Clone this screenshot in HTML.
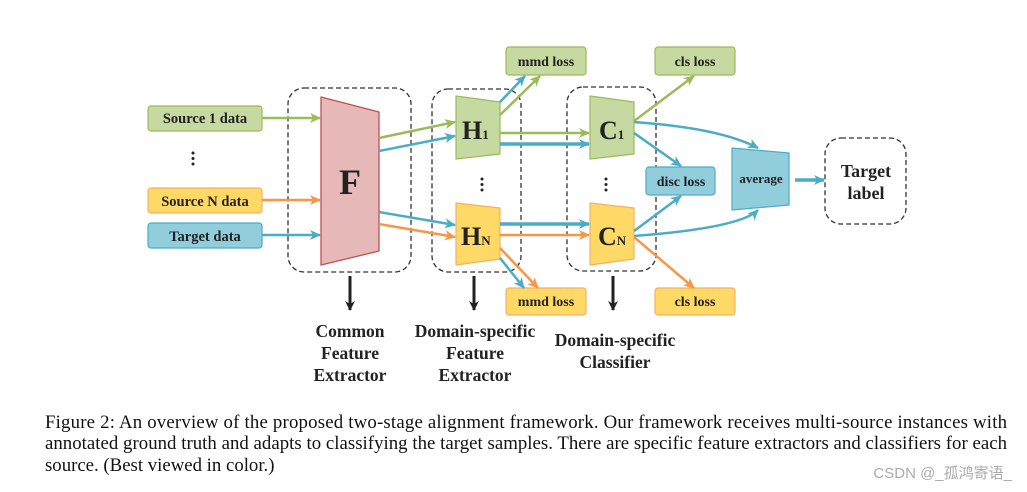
<!DOCTYPE html>
<html><head><meta charset="utf-8"><style>
html,body{margin:0;padding:0;background:#fff;}
svg{display:block;}
.b{font-family:"Liberation Serif",serif;font-weight:bold;fill:#222;}
.c{font-family:"Liberation Serif",serif;fill:#111;font-size:18.8px;}
</style></head><body>
<svg width="1027" height="492" viewBox="0 0 1027 492" xmlns="http://www.w3.org/2000/svg">
<defs>
<marker id="ag" markerWidth="11" markerHeight="10" refX="10" refY="5" orient="auto" markerUnits="userSpaceOnUse"><path d="M0,0 L11,5 L0,10 L3,5 z" fill="#9bbb59"/></marker>
<marker id="ab" markerWidth="11" markerHeight="10" refX="10" refY="5" orient="auto" markerUnits="userSpaceOnUse"><path d="M0,0 L11,5 L0,10 L3,5 z" fill="#4bacc6"/></marker>
<marker id="ao" markerWidth="11" markerHeight="10" refX="10" refY="5" orient="auto" markerUnits="userSpaceOnUse"><path d="M0,0 L11,5 L0,10 L3,5 z" fill="#f79646"/></marker>
<marker id="ak" markerWidth="10" markerHeight="10" refX="5" refY="9" orient="0" markerUnits="userSpaceOnUse"><path d="M0,0 L5,10 L10,0 L5,3 z" fill="#222"/></marker>
</defs>
<g fill="none" stroke="#333" stroke-width="1.3" stroke-dasharray="5,3">
<rect x="288" y="88" width="123" height="184" rx="16"/>
<rect x="432" y="89" width="89" height="183" rx="16"/>
<rect x="567" y="87" width="89" height="184" rx="16"/>
<rect x="825" y="138" width="81" height="86" rx="16"/>
</g>
<rect x="148" y="106" width="114" height="25" rx="3" fill="#c5d9a0" stroke="#9bbb59" stroke-width="1.2"/>
<rect x="148" y="188" width="114" height="25" rx="3" fill="#ffd966" stroke="#f4b066" stroke-width="1.2"/>
<rect x="148" y="223" width="114" height="25" rx="3" fill="#92cddc" stroke="#4bacc6" stroke-width="1.2"/>
<text class="b" x="205" y="123" font-size="14.5" text-anchor="middle">Source 1 data</text>
<text class="b" x="205" y="206" font-size="14.5" text-anchor="middle">Source N data</text>
<text class="b" x="205" y="241" font-size="14.5" text-anchor="middle">Target data</text>
<g fill="#222"><circle cx="193" cy="153" r="1.5"/><circle cx="193" cy="158.5" r="1.5"/><circle cx="193" cy="164" r="1.5"/>
<circle cx="482" cy="179" r="1.5"/><circle cx="482" cy="184.5" r="1.5"/><circle cx="482" cy="190" r="1.5"/>
<circle cx="606" cy="179" r="1.5"/><circle cx="606" cy="184.5" r="1.5"/><circle cx="606" cy="190" r="1.5"/></g>
<path d="M321,97 L379,112 L379,251 L321,265 Z" fill="#e6b9b8" stroke="#c0504d" stroke-width="1.3" stroke-linejoin="round"/>
<text class="b" x="350" y="194" font-size="36" text-anchor="middle">F</text>
<path d="M456,96 L500,102 L500,154 L456,159 Z" fill="#c5d9a0" stroke="#9bbb59" stroke-width="1.2" stroke-linejoin="round"/>
<path d="M456,203 L500,208 L500,259 L456,265 Z" fill="#ffd966" stroke="#f4b066" stroke-width="1.2" stroke-linejoin="round"/>
<text class="b" x="462" y="139" font-size="26">H<tspan font-size="13">1</tspan></text>
<text class="b" x="461" y="245" font-size="26">H<tspan font-size="13">N</tspan></text>
<path d="M590,96 L634,102 L634,154 L590,159 Z" fill="#c5d9a0" stroke="#9bbb59" stroke-width="1.2" stroke-linejoin="round"/>
<path d="M590,203 L634,208 L634,259 L590,265 Z" fill="#ffd966" stroke="#f4b066" stroke-width="1.2" stroke-linejoin="round"/>
<text class="b" x="599" y="139" font-size="26">C<tspan font-size="13">1</tspan></text>
<text class="b" x="598" y="245" font-size="26">C<tspan font-size="13">N</tspan></text>
<rect x="506" y="47" width="80" height="28" rx="3" fill="#c5d9a0" stroke="#9bbb59" stroke-width="1.2"/>
<rect x="506" y="288" width="80" height="27" rx="3" fill="#ffd966" stroke="#f4b066" stroke-width="1.2"/>
<rect x="655" y="47" width="80" height="28" rx="3" fill="#c5d9a0" stroke="#9bbb59" stroke-width="1.2"/>
<rect x="655" y="288" width="80" height="27" rx="3" fill="#ffd966" stroke="#f4b066" stroke-width="1.2"/>
<rect x="646" y="167" width="69" height="28" rx="3" fill="#92cddc" stroke="#4bacc6" stroke-width="1.2"/>
<text class="b" x="546" y="66" font-size="14" text-anchor="middle">mmd loss</text>
<text class="b" x="546" y="306" font-size="14" text-anchor="middle">mmd loss</text>
<text class="b" x="695" y="66" font-size="14" text-anchor="middle">cls loss</text>
<text class="b" x="695" y="306" font-size="14" text-anchor="middle">cls loss</text>
<text class="b" x="681" y="186" font-size="14" text-anchor="middle">disc loss</text>
<path d="M732,148 L789,153 L789,205 L732,210 Z" fill="#92cddc" stroke="#4bacc6" stroke-width="1.2" stroke-linejoin="round"/>
<text class="b" x="761" y="183" font-size="13" text-anchor="middle">average</text>
<text class="b" x="866" y="177" font-size="18" text-anchor="middle">Target</text>
<text class="b" x="866" y="199" font-size="18" text-anchor="middle">label</text>
<g fill="none" stroke-width="2.5">
<line x1="262" y1="118" x2="320" y2="118" stroke="#9bbb59" marker-end="url(#ag)"/>
<line x1="262" y1="200" x2="320" y2="200" stroke="#f79646" marker-end="url(#ao)"/>
<line x1="262" y1="235" x2="320" y2="235" stroke="#4bacc6" marker-end="url(#ab)"/>
<line x1="379" y1="138" x2="455" y2="122" stroke="#9bbb59" marker-end="url(#ag)"/>
<line x1="379" y1="151" x2="455" y2="136" stroke="#4bacc6" marker-end="url(#ab)"/>
<line x1="379" y1="212" x2="455" y2="225" stroke="#4bacc6" marker-end="url(#ab)"/>
<line x1="379" y1="224" x2="455" y2="237" stroke="#f79646" marker-end="url(#ao)"/>
<line x1="500" y1="102" x2="525" y2="76" stroke="#4bacc6" marker-end="url(#ab)"/>
<line x1="500" y1="115" x2="540" y2="76" stroke="#9bbb59" marker-end="url(#ag)"/>
<line x1="500" y1="133" x2="589" y2="133" stroke="#9bbb59" marker-end="url(#ag)"/>
<line x1="500" y1="144" x2="589" y2="144" stroke="#4bacc6" stroke-width="3.5" marker-end="url(#ab)"/>
<line x1="500" y1="224" x2="589" y2="224" stroke="#4bacc6" stroke-width="3.5" marker-end="url(#ab)"/>
<line x1="500" y1="235" x2="589" y2="235" stroke="#f79646" marker-end="url(#ao)"/>
<line x1="500" y1="258" x2="524" y2="288" stroke="#4bacc6" marker-end="url(#ab)"/>
<line x1="500" y1="248" x2="538" y2="288" stroke="#f79646" marker-end="url(#ao)"/>
<line x1="634" y1="121" x2="694" y2="76" stroke="#9bbb59" marker-end="url(#ag)"/>
<path d="M634,122 Q720,128 758,148" stroke="#4bacc6" marker-end="url(#ab)"/>
<line x1="634" y1="133" x2="681" y2="166" stroke="#4bacc6" marker-end="url(#ab)"/>
<line x1="634" y1="231" x2="681" y2="196" stroke="#4bacc6" marker-end="url(#ab)"/>
<path d="M634,236 Q740,228 758,210" stroke="#4bacc6" marker-end="url(#ab)"/>
<line x1="634" y1="237" x2="694" y2="288" stroke="#f79646" marker-end="url(#ao)"/>
<line x1="795" y1="180" x2="824" y2="180" stroke="#4bacc6" stroke-width="3.5" marker-end="url(#ab)"/>
</g>
<g stroke="#222" stroke-width="3" marker-end="url(#ak)">
<line x1="350" y1="276" x2="350" y2="310"/>
<line x1="474" y1="276" x2="474" y2="310"/>
<line x1="613" y1="276" x2="613" y2="310"/>
</g>
<g class="b" font-size="17.5" text-anchor="middle">
<text x="350" y="337">Common</text><text x="350" y="359">Feature</text><text x="350" y="381">Extractor</text>
<text x="475" y="337">Domain-specific</text><text x="475" y="359">Feature</text><text x="475" y="381">Extractor</text>
<text x="615" y="346">Domain-specific</text><text x="615" y="368">Classifier</text>
</g>
<text class="c" x="45" y="428" textLength="962" lengthAdjust="spacing">Figure 2: An overview of the proposed two-stage alignment framework. Our framework receives multi-source instances with</text>
<text class="c" x="45" y="449" textLength="962" lengthAdjust="spacing">annotated ground truth and adapts to classifying the target samples. There are specific feature extractors and classifiers for each</text>
<text class="c" x="45" y="471">source. (Best viewed in color.)</text>
<text x="1012" y="478" text-anchor="end" font-family="Liberation Sans,'Noto Sans CJK SC',sans-serif" font-size="15" fill="#aaa">CSDN @_孤鸿寄语_</text>
</svg>
</body></html>
